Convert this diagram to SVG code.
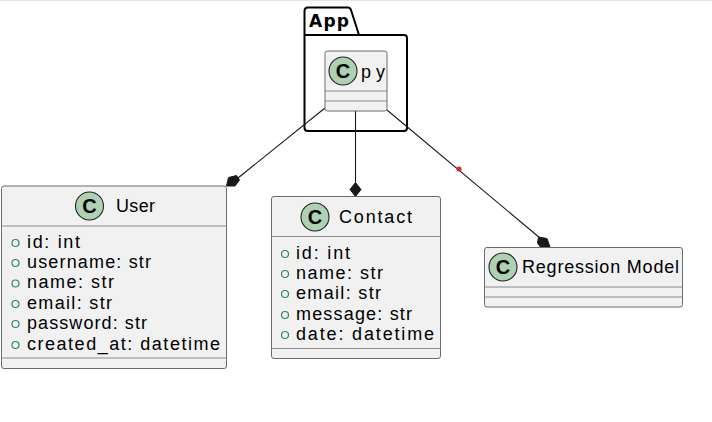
<svg xmlns="http://www.w3.org/2000/svg" width="712" height="422" viewBox="0 0 712 422">
<style>
text{font-family:"Liberation Sans",Arial,sans-serif;font-size:18px;fill:#000}
.box{fill:#f1f1f1;stroke:#6b6b6b;stroke-width:1}
.sep{stroke:#8a8a8a;stroke-width:1;fill:none}
.spot{fill:#add1b2;stroke:#222;stroke-width:1.1}
.c{font-weight:700;font-size:20px;text-anchor:middle}
.vis{fill:none;stroke:#2c8a5c;stroke-width:1.2}
.con{stroke:#181818;stroke-width:1.1;fill:none}
.dia{fill:#181818;stroke:#181818}
</style>
<rect width="712" height="422" fill="#fff"/>
<line x1="0" y1="0.5" x2="712" y2="0.5" stroke="#e4e4e4"/>
<g id="package-App">
<path d="M304.5 35V11Q304.5 7.500 308 7.500H348Q350 7.500 351 10L359 35M304.500 35H404Q407 35 407 38V128Q407 131 404 131H308Q304.500 131 304.500 128V35" fill="none" stroke="#000" stroke-width="2"/>
<text x="309" y="27" font-weight="700" textLength="40" style="font-size:17px;font-family:'DejaVu Sans',sans-serif">App</text>
</g>
<g id="connectors">
<line class="con" x1="325" y1="108" x2="238" y2="178"/>
<path class="dia" d="M226.500 186L228.500 177.500L236.500 175.500L239.500 180L235 186Z"/>
<line class="con" x1="355.500" y1="111" x2="355.500" y2="183"/>
<path class="dia" d="M355.500 182.500L361 189.500L355.500 196.500L350 189.500Z"/>
<line class="con" x1="387" y1="110" x2="540" y2="238"/>
<path class="dia" d="M538.500 237L547 238.500L550 247H540.500L537.500 243Z"/>
<circle cx="459" cy="169" r="2.500" fill="#e8202a"/>
</g>
<g id="node-py">
<rect class="box" x="325" y="51" width="62" height="60" rx="2.500"/>
<line class="sep" x1="325" y1="91" x2="387" y2="91"/>
<line class="sep" x1="325" y1="101" x2="387" y2="101"/>
<circle class="spot" cx="343" cy="71" r="14"/>
<text class="c" x="343" y="78">C</text>
<text x="361" y="78" textLength="24">p y</text>
</g>
<g id="node-User">
<rect class="box" x="1.500" y="186" width="225" height="182.500" rx="2.500"/>
<line class="sep" x1="1.500" y1="226" x2="226.500" y2="226"/>
<line class="sep" x1="1.500" y1="358" x2="226.500" y2="358"/>
<circle class="spot" cx="89.500" cy="206" r="14"/>
<text class="c" x="89.500" y="213">C</text>
<text x="116" y="212" textLength="39">User</text>
<circle class="vis" cx="15.500" cy="243" r="3.500"/><text x="27" y="247.500" textLength="53">id: int</text>
<circle class="vis" cx="15.500" cy="263" r="3.500"/><text x="27" y="268" textLength="124">username: str</text>
<circle class="vis" cx="15.500" cy="283.500" r="3.500"/><text x="27" y="288" textLength="87">name: str</text>
<circle class="vis" cx="15.500" cy="304" r="3.500"/><text x="27" y="308.500" textLength="85">email: str</text>
<circle class="vis" cx="15.500" cy="324" r="3.500"/><text x="27" y="329" textLength="120">password: str</text>
<circle class="vis" cx="15.500" cy="345" r="3.500"/><text x="27" y="349.500" textLength="193">created_at: datetime</text>
</g>
<g id="node-Contact">
<rect class="box" x="271.500" y="196.500" width="169" height="162" rx="2.500"/>
<line class="sep" x1="271.500" y1="236.500" x2="440.500" y2="236.500"/>
<line class="sep" x1="271.500" y1="348.500" x2="440.500" y2="348.500"/>
<circle class="spot" cx="315" cy="217" r="14"/>
<text class="c" x="315" y="224">C</text>
<text x="339" y="223" textLength="73">Contact</text>
<circle class="vis" cx="285" cy="254" r="3.500"/><text x="296" y="258.500" textLength="54">id: int</text>
<circle class="vis" cx="285" cy="274" r="3.500"/><text x="296" y="279" textLength="87">name: str</text>
<circle class="vis" cx="285" cy="294" r="3.500"/><text x="296" y="299" textLength="85">email: str</text>
<circle class="vis" cx="285" cy="315" r="3.500"/><text x="296" y="319.500" textLength="116">message: str</text>
<circle class="vis" cx="285" cy="335" r="3.500"/><text x="296" y="339.500" textLength="138">date: datetime</text>
</g>
<g id="node-RegressionModel">
<rect class="box" x="484.500" y="247.500" width="198" height="59.500" rx="2.500"/>
<line class="sep" x1="484.500" y1="287" x2="682.500" y2="287"/>
<line class="sep" x1="484.500" y1="297" x2="682.500" y2="297"/>
<circle class="spot" cx="503" cy="267" r="14"/>
<text class="c" x="503" y="274">C</text>
<text x="522" y="273" textLength="157">Regression Model</text>
</g>
</svg>
